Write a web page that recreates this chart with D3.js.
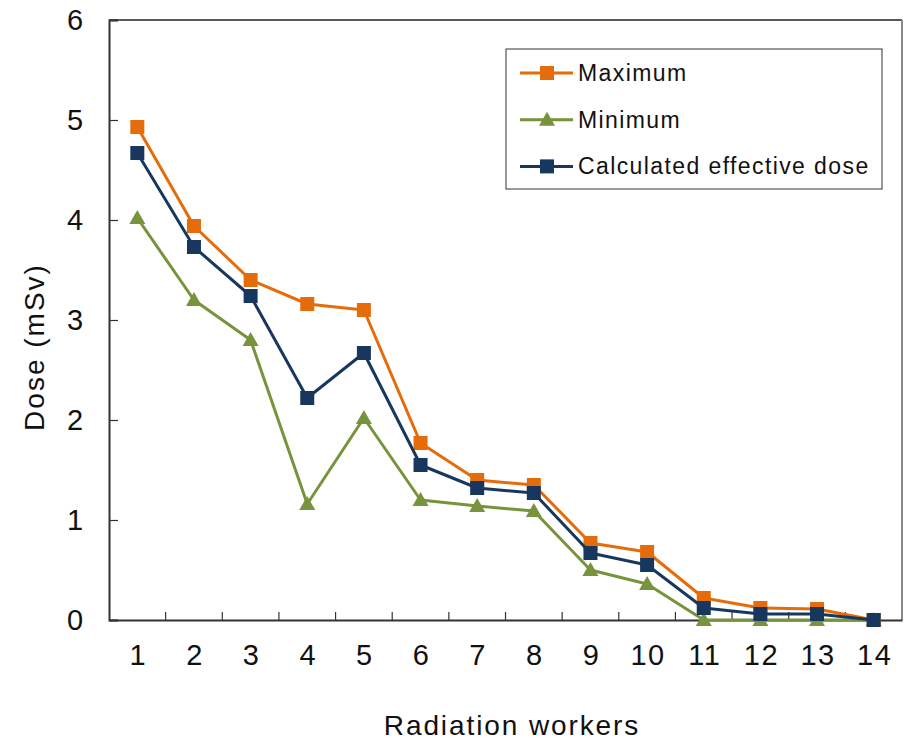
<!DOCTYPE html>
<html><head><meta charset="utf-8">
<script src="https://cdn.jsdelivr.net/npm/d3@7/dist/d3.min.js"></script>
<style>body{margin:0;background:#fff}text{font-family:"Liberation Sans",Arial,sans-serif;fill:#111}</style>
</head><body><svg id="c" width="904" height="740"></svg>
<script>
const workers = ["1","2","3","4","5","6","7","8","9","10","11","12","13","14"];
const maximum = [4.93,3.94,3.40,3.16,3.10,1.77,1.40,1.35,0.77,0.68,0.22,0.12,0.11,0.00];
const minimum = [4.02,3.20,2.80,1.16,2.02,1.20,1.14,1.09,0.50,0.36,0.00,0.00,0.00,0.00];
const calculated = [4.67,3.73,3.24,2.22,2.67,1.55,1.32,1.27,0.67,0.55,0.12,0.06,0.06,0.00];
const yTicks = [0,1,2,3,4,5,6];
const seriesNames = ["Maximum","Minimum","Calculated effective dose"];

const svg = d3.select("#c");
const L=109,R=902,T=20,B=620;
const x = d3.scaleBand().domain(workers).range([L,R]);
const y = d3.scaleLinear().domain([0,6]).range([B,T]);

const series = [
  {name:seriesNames[0], vals:maximum, color:"#E46C0A", shape:"square"},
  {name:seriesNames[1], vals:minimum, color:"#77933C", shape:"triangle"},
  {name:seriesNames[2], vals:calculated, color:"#17375E", shape:"square"}
];

// frame
svg.append("line").attr("x1",L).attr("x2",R).attr("y1",T).attr("y2",T).attr("stroke","#222").attr("stroke-width",1.5);
svg.append("line").attr("x1",R).attr("x2",R).attr("y1",T).attr("y2",B).attr("stroke","#888").attr("stroke-width",2);

// y axis
const ya = svg.append("g").attr("transform",`translate(${L},0)`)
  .call(d3.axisLeft(y).tickValues(yTicks).tickSize(-9).tickPadding(34).tickFormat(d3.format("d")));
ya.select(".domain").attr("stroke","#333").attr("stroke-width",2);
ya.selectAll(".tick line").attr("stroke","#333").attr("stroke-width",1.2);
ya.selectAll("text").attr("font-size",29).attr("fill","#111").style("font-family","Liberation Sans, Arial, sans-serif").attr("text-anchor","middle");

// x axis
const xa = svg.append("g").attr("transform",`translate(0,${B})`)
  .call(d3.axisBottom(x).tickSize(0).tickPadding(24));
xa.select(".domain").attr("stroke","#333").attr("stroke-width",2);
xa.selectAll("text").attr("font-size",29).attr("fill","#111").style("font-family","Liberation Sans, Arial, sans-serif").style("letter-spacing","1.5px").attr("dx",1);
// tick marks between categories
const bounds = workers.slice(1).map(w=>x(w));
svg.append("g").selectAll("line").data(bounds).join("line")
  .attr("x1",d=>d).attr("x2",d=>d).attr("y1",B).attr("y2",B-8).attr("stroke","#333").attr("stroke-width",1.2);

// axis titles
svg.append("text").attr("x",512).attr("y",735).attr("text-anchor","middle").attr("font-size",28).style("letter-spacing","1.9px").text("Radiation workers");
svg.append("text").attr("transform",`translate(44,347) rotate(-90)`).attr("text-anchor","middle").attr("font-size",28).style("letter-spacing","2px").text("Dose (mSv)");

const cx = d=>x(d)+x.bandwidth()/2;
const line = d3.line().x((d,i)=>cx(workers[i])).y(d=>y(d));

function marker(g, shape, color, px, py){
  if(shape==="square"){
    g.append("rect").attr("x",px-7).attr("y",py-7).attr("width",14).attr("height",14).attr("fill",color);
  } else {
    g.append("path").attr("d",`M${px},${py-8}L${px+8},${py+6}L${px-8},${py+6}Z`).attr("fill",color);
  }
}

series.forEach(s=>{
  const g = svg.append("g");
  g.append("path").datum(s.vals).attr("d",line).attr("fill","none").attr("stroke",s.color).attr("stroke-width",3).attr("stroke-linejoin","round");
  s.vals.forEach((v,i)=>marker(g,s.shape,s.color,cx(workers[i]),y(v)));
});

// legend
const lg = svg.append("g");
lg.append("rect").attr("x",506).attr("y",49).attr("width",376).attr("height",140).attr("fill","#fff").attr("stroke","#333").attr("stroke-width",1);
series.forEach((s,i)=>{
  const yy = 73 + i*46.7;
  lg.append("line").attr("x1",520).attr("x2",573).attr("y1",yy).attr("y2",yy).attr("stroke",s.color).attr("stroke-width",3);
  marker(lg,s.shape,s.color,547,yy);
  lg.append("text").attr("x",578).attr("y",yy+8).attr("font-size",23).style("letter-spacing","1.4px").text(s.name);
});
</script></body></html>
